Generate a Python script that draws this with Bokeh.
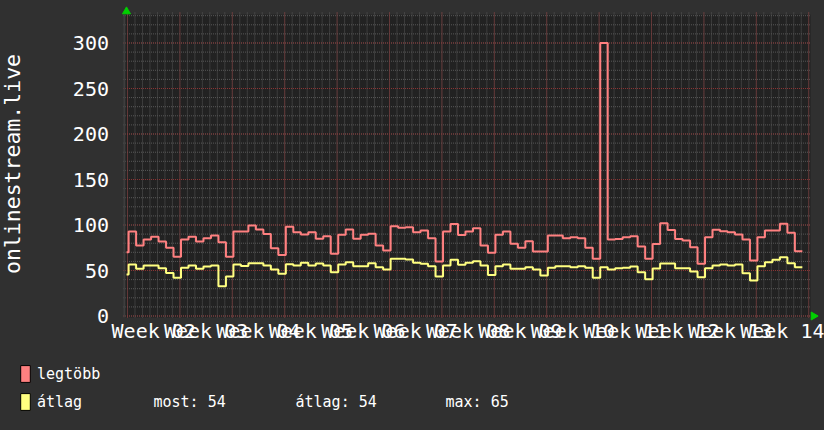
from bokeh.plotting import figure
from bokeh.models import (FixedTicker, Legend, LegendItem, Label, Range1d,
                          GlobalInlineStyleSheet)
from bokeh.embed import file_html
from bokeh.resources import INLINE

# ---------------- data (daily values, day index relative to first week tick) ----------------
days = list(range(-1, 90))
legtobb = [70, 93, 77.5, 84, 87, 82, 75, 65, 84, 87, 82, 85.5, 88.5, 81, 65, 93, 93, 99.5, 95, 90,
           74.5, 67, 98, 92, 89.6, 92, 84.8, 87.7, 68.3, 89.2, 95, 84.8, 89.2, 90.3, 77.5, 72, 98.7,
           96.9, 97.6, 92, 94, 85.5, 60, 93, 101, 89, 93, 96.5, 77.5, 69.4, 89.2, 93, 79.3, 75, 82.2,
           71, 71, 88.5, 88.5, 85.5, 86.6, 85.5, 75, 62.8, 300, 84, 84.5, 86.6, 87.7, 76.4, 63, 79,
           102, 94.5, 84.5, 83, 75.6, 57.3, 86.6, 94.7, 93.2, 92.1, 89.6, 84, 61, 86.6, 94, 94,
           101.3, 91.4, 71.2]
atlag = [45.6, 56.6, 51.8, 55.5, 55.5, 52.6, 47.4, 42, 53, 55.5, 51.8, 54.4, 55.5, 32.7, 43.4, 56.6,
         55, 58, 58, 55.5, 51, 46.4, 57, 55.5, 58.4, 55.5, 57.7, 55.5, 48, 56.6, 59, 54.7, 54.7, 58,
         53.6, 51, 62.8, 62.8, 62, 58.4, 57.3, 54.7, 43.4, 55.5, 61.7, 56.2, 58.4, 60.2, 55.5, 45.2,
         54.7, 56.6, 51.8, 51.8, 53.6, 51.1, 44.5, 53, 54.7, 54.7, 53.6, 54.7, 53, 42, 53.6, 51.1,
         52.5, 53, 54.5, 48.1, 40.5, 52.2, 57.6, 57.6, 52.6, 52.6, 48.9, 42.7, 52.6, 55.5, 56.6, 55.5,
         56.6, 47, 39, 54.7, 59.1, 61.7, 64.6, 58, 53.6]
week_ticks = [3.5 + 7 * k for k in range(13)]
week_labels = ["Week %02d" % n for n in range(2, 15)]
y_ticks = [0, 50, 100, 150, 200, 250, 300]
series_names = ["legtöbb", "átlag"]
stat_names = ["most", "átlag", "max"]
stat_values = [54, 54, 65]

# ---------------- styling ----------------
BG = "#303030"
AREA = "#222222"
RED = "#ff8080"
YEL = "#ffff80"
MINOR = "#585858"
MAJOR = "#8a3434"
FONT = "DejaVu Sans Mono"

DAY_SHIFT = 0.15          # step boundaries relative to the day grid
DATA_START = -0.13
AREA_X = (-0.47, 91.24)   # extent of the dark plotting area (days)
AREA_Y = (-1.65, 331.3)   # extent of the dark plotting area (value units)
AXIS_Y = (-3.85, 337.9)   # extent spanned by the value axis

p = figure(width=824, height=430, output_backend="svg", toolbar_location=None,
           x_range=Range1d(-16.965, 93.107), y_range=Range1d(-125.8, 346.7),
           min_border_left=0, min_border_right=0, min_border_top=0, min_border_bottom=0,
           background_fill_color=BG, border_fill_color=BG, outline_line_color=None)
p.stylesheets = [GlobalInlineStyleSheet(css="body{background:%s;}" % BG)]
p.grid.visible = False

# plot area
p.quad(left=[AREA_X[0]], right=[AREA_X[1]], bottom=[AREA_Y[0]], top=[AREA_Y[1]],
       fill_color=AREA, line_color=None)

# grid
minor_x = list(range(0, 92))
major_x = list(range(0, 92, 7))
minor_y = list(range(0, 331, 10))
major_y = list(range(0, 301, 50))
p.segment(x0=minor_x, x1=minor_x, y0=[AREA_Y[0]] * len(minor_x), y1=[333.5] * len(minor_x),
          line_color=MINOR, line_dash="1 1", line_width=1)
p.segment(x0=[-0.6] * len(minor_y), x1=[AREA_X[1]] * len(minor_y), y0=minor_y, y1=minor_y,
          line_color=MINOR, line_dash="1 1", line_width=1)
p.segment(x0=major_x, x1=major_x, y0=[AREA_Y[0]] * len(major_x), y1=[333.5] * len(major_x),
          line_color=MAJOR, line_dash="1 1", line_width=1)
p.segment(x0=[-0.6] * len(major_y), x1=[AREA_X[1]] * len(major_y), y0=major_y, y1=major_y,
          line_color=MAJOR, line_dash="1 1", line_width=1)
# left axis line
p.segment(x0=[-0.41], x1=[-0.41], y0=[AREA_Y[0]], y1=[AREA_Y[1]], line_color="#3e3e3e", line_width=2)

# series as step lines
def edges():
    xs = [max(DATA_START, d + DAY_SHIFT) for d in days]
    return xs + [days[-1] + 1 + DAY_SHIFT]

xs = edges()
p.step(xs, legtobb + [legtobb[-1]], mode="after", line_color=RED, line_width=2)
p.step(xs, atlag + [atlag[-1]], mode="after", line_color=YEL, line_width=2)

# green arrows
p.scatter(x=[-0.134], y=[334.6], marker="triangle", size=8, fill_color="#00d000",
          line_color="#00d000")
p.scatter(x=[91.64], y=[0], marker="triangle", size=8, angle=-1.5708, fill_color="#00d000",
          line_color="#00d000")

# axes (fixed inside the canvas-wide frame)
xa = p.xaxis[0]
xa.fixed_location = AXIS_Y[0]
xa.ticker = FixedTicker(ticks=week_ticks)
xa.major_label_overrides = dict(zip(week_ticks, week_labels))
ya = p.yaxis[0]
ya.fixed_location = AREA_X[0]
ya.bounds = AXIS_Y
ya.ticker = FixedTicker(ticks=y_ticks)
ya.axis_label = "onlinestream.live"
for ax in (xa, ya):
    ax.axis_line_color = None
    ax.major_tick_line_color = None
    ax.minor_tick_line_color = None
    ax.major_tick_out = 0
    ax.major_tick_in = 0
    ax.major_label_text_font = FONT
    ax.major_label_text_font_size = "20px"
    ax.major_label_text_color = "white"
xa.major_label_standoff = -1
ya.major_label_standoff = 15
ya.axis_label_text_font = FONT
ya.axis_label_text_font_size = "21.5px"
ya.axis_label_text_font_style = "normal"
ya.axis_label_text_color = "white"
ya.axis_label_text_line_height = 1.0
ya.axis_label_standoff = 44

# legend swatches (zero-size glyphs, only used for the legend)
r1 = p.quad(left=[0], right=[0], top=[0], bottom=[0], fill_color=RED, line_color="black")
r2 = p.quad(left=[0], right=[0], top=[0], bottom=[0], fill_color=YEL, line_color="black")
legend = Legend(items=[LegendItem(label=series_names[0], renderers=[r1]),
                       LegendItem(label=series_names[1], renderers=[r2])],
                location=(19, 18), padding=0, margin=0, spacing=7,
                glyph_width=12, glyph_height=21, label_height=21, label_standoff=6,
                label_text_font=FONT, label_text_font_size="15px", label_text_color="white",
                background_fill_alpha=0, border_line_color=None)
p.add_layout(legend)

stat_x = [3.47, 22.44, 42.48]     # days, via the x scale
stat_y = -94.5
for name, val, sx in zip(stat_names, stat_values, stat_x):
    p.add_layout(Label(x=sx, y=stat_y, text="%s: %d" % (name, val), text_font=FONT,
                       text_font_size="15px", text_color="white", text_baseline="middle"))

open("out.html", "w", encoding="utf-8").write(file_html(p, INLINE))
